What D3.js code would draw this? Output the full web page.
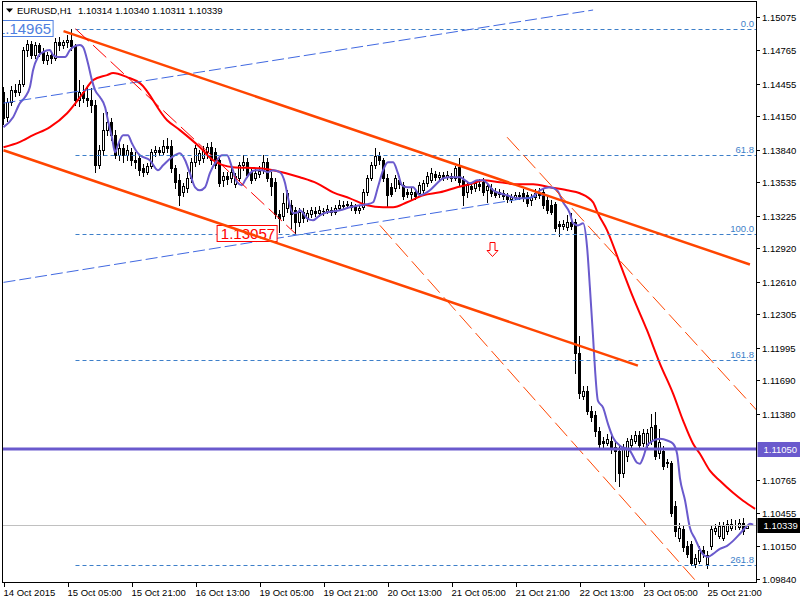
<!DOCTYPE html>
<html><head><meta charset="utf-8">
<script src="https://cdn.jsdelivr.net/npm/d3@7"></script>
<style>
html,body{margin:0;padding:0;background:#fff;}
svg{display:block;font-family:"Liberation Sans",Arial,sans-serif;}
</style></head><body>
<svg id="chart" width="800" height="600"></svg>
<script>
// ---------------- DATA ----------------
const symbolTitle = "EURUSD,H1";
const quoteTitle = "1.10314 1.10340 1.10311 1.10339";

const opens = [1.14375,1.14142,1.14282,1.14394,1.14375,1.14450,1.14767,1.14823,1.14720,1.14814,
1.14748,1.14674,1.14720,1.14692,1.14842,1.14814,1.14842,1.14860,1.14804,1.14301,
1.14375,1.14319,1.14301,1.14254,1.13694,1.13834,1.14021,1.14095,1.13974,1.13787,
1.13853,1.13787,1.13815,1.13741,1.13760,1.13666,1.13629,1.13685,1.13815,1.13834,
1.13815,1.13871,1.13871,1.13666,1.13554,1.13442,1.13480,1.13573,1.13722,1.13741,
1.13760,1.13815,1.13862,1.13815,1.13741,1.13554,1.13592,1.13573,1.13517,1.13573,
1.13694,1.13722,1.13629,1.13573,1.13610,1.13648,1.13722,1.13573,1.13536,1.13237,
1.13218,1.13293,1.13321,1.13274,1.13162,1.13256,1.13200,1.13237,1.13265,1.13246,
1.13265,1.13265,1.13274,1.13256,1.13293,1.13321,1.13321,1.13321,1.13302,1.13274,
1.13302,1.13442,1.13573,1.13694,1.13778,1.13741,1.13573,1.13489,1.13480,1.13554,
1.13508,1.13442,1.13424,1.13442,1.13433,1.13461,1.13526,1.13554,1.13610,1.13582,
1.13601,1.13582,1.13592,1.13573,1.13676,1.13554,1.13442,1.13498,1.13480,1.13517,
1.13536,1.13461,1.13480,1.13442,1.13424,1.13433,1.13405,1.13377,1.13396,1.13414,
1.13433,1.13414,1.13368,1.13396,1.13433,1.13442,1.13368,1.13321,1.13330,1.13144,
1.13125,1.13116,1.13162,1.13162,1.11949,1.11548,1.11595,1.11408,1.11371,1.11222,
1.11128,1.11110,1.11128,1.11072,1.11035,1.10830,1.10988,1.11091,1.11128,1.11184,
1.11110,1.11091,1.11128,1.11278,1.11016,1.11035,1.10923,1.10923,1.10522,1.10223,
1.10307,1.10149,1.10167,1.09981,1.10009,1.10111,1.09981,1.10149,1.10289,1.10242,
1.10223,1.10289,1.10317,1.10345,1.10326,1.10363,1.10314];

const highs = [1.14422,1.14319,1.14431,1.14450,1.14487,1.14795,1.14860,1.14851,1.14842,1.14832,
1.14786,1.14748,1.14758,1.14879,1.14888,1.14860,1.14907,1.14965,1.14823,1.14487,
1.14441,1.14431,1.14413,1.14301,1.13881,1.14179,1.14189,1.14133,1.14021,1.13927,
1.13890,1.13881,1.13853,1.13815,1.13787,1.13704,1.13713,1.13843,1.13871,1.13862,
1.13927,1.13946,1.13927,1.13694,1.13610,1.13526,1.13629,1.13760,1.13881,1.13834,
1.13871,1.13899,1.13909,1.13853,1.13769,1.13629,1.13629,1.13666,1.13620,1.13722,
1.13787,1.13760,1.13666,1.13666,1.13685,1.13787,1.13760,1.13629,1.13573,1.13274,
1.13433,1.13461,1.13368,1.13302,1.13293,1.13293,1.13274,1.13302,1.13302,1.13311,
1.13293,1.13321,1.13302,1.13321,1.13368,1.13358,1.13358,1.13349,1.13330,1.13321,
1.13470,1.13601,1.13722,1.13853,1.13815,1.13760,1.13610,1.13526,1.13601,1.13592,
1.13536,1.13470,1.13480,1.13470,1.13536,1.13554,1.13629,1.13666,1.13638,1.13629,
1.13629,1.13638,1.13620,1.13685,1.13760,1.13592,1.13536,1.13536,1.13554,1.13564,
1.13573,1.13526,1.13517,1.13480,1.13470,1.13461,1.13433,1.13424,1.13442,1.13442,
1.13470,1.13442,1.13424,1.13470,1.13480,1.13470,1.13405,1.13368,1.13349,1.13172,
1.13181,1.13228,1.13246,1.13190,1.12108,1.11642,1.11642,1.11455,1.11408,1.11259,
1.11166,1.11194,1.11175,1.11119,1.11082,1.11100,1.11156,1.11184,1.11222,1.11222,
1.11240,1.11240,1.11380,1.11399,1.11240,1.11082,1.10961,1.10942,1.10569,1.10363,
1.10335,1.10195,1.10195,1.10074,1.10149,1.10149,1.10102,1.10345,1.10354,1.10373,
1.10373,1.10391,1.10401,1.10391,1.10401,1.10410,1.10340];

const lows = [1.14077,1.14105,1.14254,1.14338,1.14347,1.14431,1.14711,1.14692,1.14692,1.14711,
1.14646,1.14636,1.14646,1.14674,1.14767,1.14786,1.14795,1.14767,1.14254,1.14245,
1.14282,1.14245,1.14189,1.13629,1.13666,1.13787,1.13974,1.13927,1.13760,1.13741,
1.13722,1.13741,1.13694,1.13666,1.13601,1.13592,1.13610,1.13666,1.13778,1.13787,
1.13797,1.13815,1.13629,1.13480,1.13321,1.13405,1.13442,1.13536,1.13685,1.13704,
1.13722,1.13760,1.13704,1.13666,1.13498,1.13498,1.13517,1.13536,1.13489,1.13545,
1.13648,1.13582,1.13526,1.13554,1.13582,1.13620,1.13545,1.13414,1.13200,1.13069,
1.13181,1.13256,1.13106,1.13057,1.13125,1.13162,1.13172,1.13209,1.13218,1.13218,
1.13227,1.13246,1.13227,1.13237,1.13274,1.13283,1.13293,1.13274,1.13246,1.13246,
1.13283,1.13414,1.13554,1.13666,1.13704,1.13545,1.13302,1.13405,1.13452,1.13480,
1.13377,1.13396,1.13377,1.13377,1.13414,1.13433,1.13498,1.13536,1.13554,1.13564,
1.13554,1.13564,1.13545,1.13554,1.13508,1.13321,1.13396,1.13433,1.13452,1.13461,
1.13414,1.13349,1.13405,1.13396,1.13396,1.13377,1.13349,1.13349,1.13377,1.13377,
1.13358,1.13311,1.13321,1.13377,1.13386,1.13293,1.13246,1.13237,1.13078,1.13032,
1.13097,1.13088,1.13097,1.11763,1.11530,1.11520,1.11380,1.11315,1.11175,1.11072,
1.11072,1.11091,1.11016,1.10755,1.10709,1.10793,1.10942,1.11063,1.11110,1.11063,
1.11082,1.11072,1.11100,1.10961,1.10970,1.10867,1.10886,1.10429,1.10242,1.10195,
1.10102,1.10046,1.09972,1.09953,1.09990,1.10046,1.09943,1.10121,1.10261,1.10223,
1.10205,1.10261,1.10298,1.10307,1.10307,1.10261,1.10311];

const closes = [1.14133,1.14282,1.14394,1.14375,1.14450,1.14767,1.14823,1.14720,1.14814,1.14748,
1.14674,1.14720,1.14692,1.14842,1.14814,1.14842,1.14860,1.14804,1.14301,1.14375,
1.14319,1.14301,1.14254,1.13694,1.13834,1.14021,1.14095,1.13974,1.13787,1.13853,
1.13787,1.13834,1.13741,1.13722,1.13648,1.13629,1.13685,1.13815,1.13834,1.13815,
1.13871,1.13853,1.13666,1.13536,1.13414,1.13498,1.13573,1.13722,1.13853,1.13806,
1.13834,1.13862,1.13741,1.13694,1.13526,1.13592,1.13564,1.13629,1.13592,1.13694,
1.13722,1.13601,1.13554,1.13620,1.13638,1.13722,1.13573,1.13498,1.13237,1.13200,
1.13340,1.13433,1.13237,1.13162,1.13256,1.13200,1.13246,1.13274,1.13246,1.13274,
1.13266,1.13283,1.13256,1.13293,1.13321,1.13311,1.13330,1.13302,1.13274,1.13293,
1.13442,1.13573,1.13694,1.13778,1.13741,1.13573,1.13414,1.13424,1.13573,1.13517,
1.13405,1.13424,1.13442,1.13405,1.13508,1.13526,1.13592,1.13620,1.13582,1.13601,
1.13582,1.13601,1.13573,1.13666,1.13536,1.13414,1.13508,1.13470,1.13526,1.13498,
1.13442,1.13498,1.13433,1.13414,1.13442,1.13405,1.13377,1.13396,1.13414,1.13405,
1.13386,1.13340,1.13396,1.13433,1.13414,1.13321,1.13274,1.13256,1.13106,1.13125,
1.13144,1.13162,1.13125,1.11949,1.11576,1.11595,1.11408,1.11352,1.11222,1.11100,
1.11110,1.11147,1.11072,1.11035,1.10830,1.11063,1.11128,1.11147,1.11184,1.11091,
1.11203,1.11203,1.11259,1.10988,1.11119,1.10895,1.10933,1.10457,1.10289,1.10317,
1.10139,1.10074,1.09990,1.10037,1.10111,1.10083,1.10065,1.10307,1.10317,1.10335,
1.10335,1.10354,1.10354,1.10347,1.10363,1.10289,1.10339];

const xTickBars = [0,16,32,48,64,80,96,112,128,144,160,176];
const xTickLabels = ["14 Oct 2015","15 Oct 05:00","15 Oct 21:00","16 Oct 13:00","19 Oct 05:00","19 Oct 21:00",
  "20 Oct 13:00","21 Oct 05:00","21 Oct 21:00","22 Oct 13:00","23 Oct 05:00","25 Oct 21:00"];
const yTickValues = [1.15075,1.14765,1.14455,1.14150,1.13840,1.13535,1.13225,1.12920,1.12610,
  1.12305,1.11995,1.11690,1.11380,1.10765,1.10455,1.10150,1.09840];

// moving averages, [bar, price]
const maSlow = [[0,1.13862],[4,1.13909],[7.4,1.13974],[11.6,1.14049],[15.9,1.14179],[19.9,1.14366],
 [22.4,1.14487],[25.9,1.14534],[27.4,1.14553],[30.9,1.14515],[34.1,1.14459],[40.9,1.14114],[44.1,1.14021],
 [49.1,1.13862],[52.4,1.13741],[57.4,1.13676],[64.1,1.13666],[67.4,1.13648],[74.1,1.13582],[78.4,1.13526],
 [82.4,1.13442],[86.6,1.13386],[90.9,1.13321],[94.9,1.13302],[97.4,1.13302],[100.9,1.13349],[104.9,1.13414],
 [109.1,1.13442],[113.4,1.13489],[117.4,1.13526],[119.9,1.13554],[124.1,1.13536],[128.4,1.13517],[132.4,1.13517],
 [136.6,1.13489],[140.9,1.13461],[144.1,1.13433],[147.4,1.13349],[148.6,1.13246],[150.9,1.13088],[154.1,1.12780],
 [157.4,1.12463],[160.9,1.12155],[164.1,1.11847],[167.4,1.11567],[169.9,1.11315],[172.4,1.11100],[174.1,1.11007],
 [176.6,1.10849],[179.1,1.10755],[182.4,1.10643],[184.9,1.10569],[187.9,1.10494]];

const maFast = [[0,1.14049],[2.4,1.14142],[4.1,1.14273],[5.4,1.14329],[6.6,1.14422],[7.4,1.14581],[8.6,1.14702],
 [9.9,1.14748],[11.6,1.14767],[12.4,1.14720],[13.6,1.14702],[15.4,1.14702],[16.6,1.14767],[17.4,1.14795],
 [19.1,1.14814],[19.9,1.14795],[21.1,1.14646],[22.1,1.14487],[22.9,1.14394],[24.1,1.14329],[25.4,1.14235],
 [26.1,1.14114],[27.1,1.13956],[27.9,1.13815],[28.6,1.13881],[29.9,1.13974],[31.1,1.13974],[32.1,1.13899],
 [33.4,1.13815],[34.1,1.13787],[36.6,1.13741],[38.6,1.13648],[39.9,1.13694],[42.1,1.13769],[44.1,1.13806],
 [45.4,1.13741],[46.6,1.13620],[47.9,1.13489],[49.1,1.13461],[50.4,1.13489],[51.6,1.13620],[53.4,1.13741],
 [54.6,1.13787],[55.9,1.13787],[57.1,1.13676],[58.4,1.13536],[59.6,1.13508],[60.4,1.13554],[61.6,1.13620],
 [62.9,1.13648],[64.6,1.13648],[66.1,1.13629],[67.4,1.13648],[69.1,1.13629],[70.4,1.13526],[71.1,1.13396],
 [72.4,1.13246],[73.6,1.13256],[74.1,1.13274],[75.9,1.13200],[77.4,1.13181],[79.1,1.13228],[80.9,1.13256],
 [84.1,1.13274],[86.6,1.13302],[89.1,1.13321],[90.9,1.13330],[92.4,1.13349],[93.6,1.13489],[94.9,1.13648],
 [96.1,1.13722],[97.4,1.13722],[98.6,1.13620],[99.6,1.13508],[100.9,1.13489],[102.4,1.13489],[104.1,1.13414],
 [105.4,1.13433],[106.6,1.13461],[108.4,1.13526],[109.9,1.13573],[111.6,1.13582],[114.1,1.13582],[115.4,1.13554],
 [116.6,1.13526],[118.4,1.13554],[119.9,1.13554],[120.9,1.13526],[122.4,1.13461],[124.1,1.13433],[125.9,1.13414],
 [128.4,1.13386],[130.9,1.13386],[132.4,1.13405],[134.1,1.13461],[136.6,1.13489],[138.4,1.13461],[139.9,1.13349],
 [141.6,1.13246],[142.4,1.13153],[143.6,1.13134],[144.9,1.13153],[145.9,1.12929],[146.6,1.12556],[147.4,1.12089],
 [147.9,1.11782],[148.6,1.11502],[149.9,1.11436],[151.1,1.11287],[152.4,1.11156],[154.1,1.11082],[156.6,1.11035],
 [158.4,1.10923],[159.1,1.10914],[159.9,1.10970],[160.9,1.11082],[162.4,1.11128],[164.1,1.11147],[166.1,1.11128],
 [167.4,1.11100],[168.4,1.11007],[169.1,1.10783],[170.4,1.10569],[171.6,1.10317],[172.9,1.10214],[174.6,1.10083],
 [176.1,1.10046],[177.4,1.10074],[179.1,1.10121],[180.9,1.10149],[182.4,1.10195],[184.1,1.10261],[185.9,1.10335],
 [186.6,1.10354],[187.4,1.10345]];

// Fibonacci retracement
const fibNames = ["0.0","61.8","100.0","161.8","261.8"];
const fibPrices = [1.14965,1.13786,1.13057,1.11878,1.09970];
const fibStartBar = 18;
const fibTrend = [[18,1.14965],[73,1.13057]];

// trend objects [bar, price]
const channelUpper = [[15,1.14944],[186.6,1.12770]];
const channelLower = [[0,1.13834],[158.6,1.11828]];
const regressionUpper = [[0,1.14273],[147.4,1.15140]];
const regressionLower = [[0,1.12603],[135,1.13414]];
const dashedLineA = [[125.9,1.13955],[188.4,1.11408]];
const dashedLineB = [[94.1,1.13134],[176,1.09700]];

const hLinePrice = 1.11050;
const bidPrice = 1.10339;
const priceLabels = [
  {text:"1.14965", bar:12.4, price:1.14965, color:"#4f7fe0"},
  {text:"1.13057", bar:68.4, price:1.13057, color:"#ff0000"}
];
const arrowMark = {bar:122.25, price:1.12976};

// ---------------- DRAW ----------------
const svg = d3.select("#chart");
const L = 2.5, R = 756.5, T = 1.5, B = 582.5;
const x = d3.scaleLinear().domain([0,186]).range([3.5,747.5]);
const y = d3.scaleLinear().domain([1.09840,1.15075]).range([579,17]);
const cr = v => Math.round(v) + 0.5;

svg.append("rect").attr("width",800).attr("height",600).attr("fill","#fff");
const defs = svg.append("defs");
defs.append("clipPath").attr("id","plot").append("rect")
  .attr("x",3).attr("y",2).attr("width",753).attr("height",580);

const plot = svg.append("g").attr("clip-path","url(#plot)");

// candles
const bars = d3.range(opens.length).map(i => ({i, o:opens[i], h:highs[i], l:lows[i], c:closes[i]}));
const cg = plot.append("g");
cg.selectAll("line.wick").data(bars).join("line")
  .attr("x1",d=>x(d.i)).attr("x2",d=>x(d.i))
  .attr("y1",d=>Math.round(y(d.h))).attr("y2",d=>Math.round(y(d.l))+1)
  .attr("stroke","#000").attr("stroke-width",1);
cg.selectAll("rect.body").data(bars).join("rect")
  .attr("x",d=>x(d.i)-1).attr("width",2)
  .attr("y",d=>Math.round(y(Math.max(d.o,d.c)))+0.5)
  .attr("height",d=>Math.max(0.01, Math.round(y(Math.min(d.o,d.c))) - Math.round(y(Math.max(d.o,d.c)))))
  .attr("fill",d=>d.c>=d.o?"#fff":"#000")
  .attr("stroke","#000").attr("stroke-width",1);

// MAs
const lineGen = d3.line().x(d=>x(d[0])).y(d=>y(d[1])).curve(d3.curveMonotoneX);
plot.append("path").attr("d",lineGen(maSlow)).attr("fill","none")
  .attr("stroke","#ff0000").attr("stroke-width",2);
plot.append("path").attr("d",lineGen(maFast)).attr("fill","none")
  .attr("stroke","#6a5acd").attr("stroke-width",2);

// fib levels
const fibG = plot.append("g");
fibPrices.forEach((p,k)=>{
  const yy = cr(y(p));
  fibG.append("line").attr("x1",x(fibStartBar)).attr("x2",R).attr("y1",yy).attr("y2",yy)
    .attr("stroke","#3d7fc9").attr("stroke-width",1).attr("stroke-dasharray","4,3");
  fibG.append("text").attr("x",754).attr("y",yy-3).attr("text-anchor","end")
    .attr("font-size","9.5px").attr("fill","#3d7fc9").text(fibNames[k]);
});

const seg = (g, pts, color, w, dash) => g.append("line")
  .attr("x1",x(pts[0][0])).attr("y1",y(pts[0][1]))
  .attr("x2",x(pts[1][0])).attr("y2",y(pts[1][1]))
  .attr("stroke",color).attr("stroke-width",w).attr("stroke-dasharray",dash||null);

seg(plot, regressionUpper, "#4169e1", 1, "12,4");
seg(plot, regressionLower, "#4169e1", 1, "12,4");

// price labels
priceLabels.forEach(lb=>{
  const yy = y(lb.price), xr = x(lb.bar);
  plot.append("rect").attr("x",xr-60).attr("y",Math.round(yy)-8.5).attr("width",60).attr("height",16)
    .attr("fill","#fff").attr("stroke",lb.color).attr("stroke-width",1);
  plot.append("text").attr("x",xr-2).attr("y",Math.round(yy)+5).attr("text-anchor","end")
    .attr("font-size","15px").attr("fill",lb.color).text(lb.text);
});

seg(plot, channelUpper, "#ff4500", 2.5);
seg(plot, channelLower, "#ff4500", 2.5);
seg(plot, fibTrend, "#ff0000", 1, "18,6");
seg(plot, dashedLineA, "#ff4500", 1, "18,6");
seg(plot, dashedLineB, "#ff4500", 1, "18,6");

// horizontal line and bid
plot.append("line").attr("x1",L).attr("x2",R).attr("y1",y(hLinePrice)).attr("y2",y(hLinePrice))
  .attr("stroke","#6a5acd").attr("stroke-width",3);
plot.append("line").attr("x1",L).attr("x2",R).attr("y1",cr(y(bidPrice))).attr("y2",cr(y(bidPrice)))
  .attr("stroke","#c0c0c0").attr("stroke-width",1);

// arrow
{
  const ax = x(arrowMark.bar), ay = Math.round(y(arrowMark.price))+0.5;
  const pts = [[-2.5,0],[2.5,0],[2.5,8],[5.5,8],[0,14],[-5.5,8],[-2.5,8]];
  plot.append("path").attr("d","M"+pts.map(p=>[ax+p[0],ay+p[1]].join(",")).join("L")+"Z")
    .attr("fill","#fff").attr("stroke","#ff0000").attr("stroke-width",1);
}

// frame
svg.append("rect").attr("x",L).attr("y",T).attr("width",R-L).attr("height",B-T)
  .attr("fill","none").attr("stroke","#000").attr("stroke-width",1);

// axes
const yAx = svg.append("g").attr("transform",`translate(${R-0.5},0)`)
  .call(d3.axisRight(y.copy().interpolate(d3.interpolateRound)).tickValues(yTickValues)
    .tickFormat(d=>d.toFixed(5)).tickSize(4).tickPadding(2));
yAx.select(".domain").remove();
yAx.selectAll("text").attr("font-size","9.5px").attr("font-family","Liberation Sans, Arial, sans-serif").attr("fill","#000");
yAx.selectAll("line").attr("stroke","#000");

const xAx = svg.append("g").attr("transform",`translate(0,${B-0.5})`)
  .call(d3.axisBottom(x.copy().interpolate(d3.interpolateRound)).tickValues(xTickBars)
    .tickFormat((d,i)=>xTickLabels[i]).tickSize(5).tickPadding(2));
xAx.select(".domain").remove();
xAx.selectAll("text").attr("font-size","9.5px").attr("font-family","Liberation Sans, Arial, sans-serif")
  .attr("text-anchor","start").attr("fill","#000").attr("dx","-1");
xAx.selectAll("line").attr("stroke","#000");

// axis highlight labels
[[hLinePrice,"#6a5acd"],[bidPrice,"#000"]].forEach(([p,col])=>{
  const yy = Math.round(y(p));
  svg.append("rect").attr("x",R+1).attr("y",yy-7).attr("width",44).attr("height",15).attr("fill",col);
  svg.append("text").attr("x",R+7).attr("y",yy+4).attr("font-size","9.5px").attr("fill","#fff").text(p.toFixed(5));
});

// title
svg.append("path").attr("d","M6,8.5L13,8.5L9.5,12.5Z").attr("fill","#000");
svg.append("text").attr("x",17).attr("y",14).attr("font-size","9.5px").attr("fill","#000").text(symbolTitle);
svg.append("text").attr("x",78).attr("y",14).attr("font-size","9.5px").attr("fill","#000").text(quoteTitle);
</script>
</body></html>
